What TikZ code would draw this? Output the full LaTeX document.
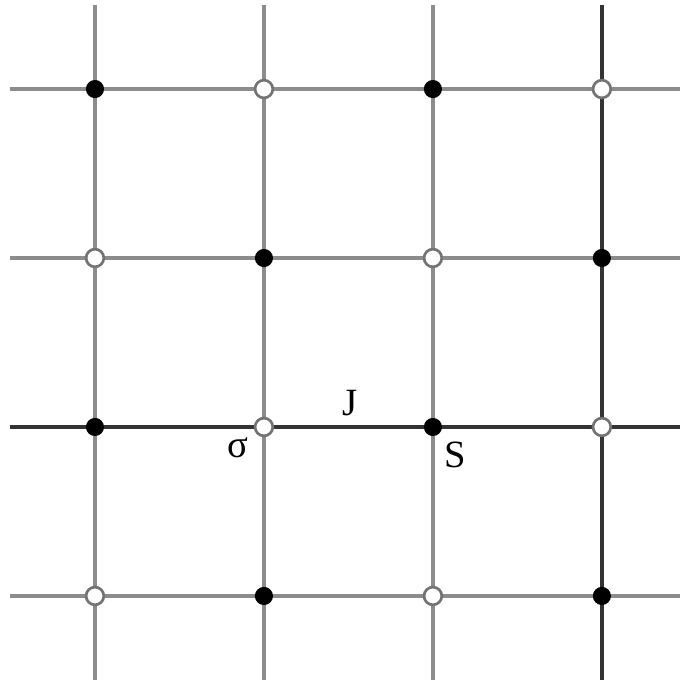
\documentclass[tikz,border=0pt]{standalone}
\usepackage{fontspec}
\setmainfont{Liberation Serif}
\usetikzlibrary{calc}
\begin{document}
\begin{tikzpicture}[x=2cm, y=2cm,
  spin/.style={circle, draw=black, fill=black, minimum size=0.2cm, inner sep=0pt},
  hole/.style={circle, draw=black!55, fill=white, line width=0.9pt, minimum size=0.21cm, inner sep=0pt},
  bond/.style={draw=black!45, line width=1.1pt},
  strong/.style={draw=black!80, line width=1.1pt},
  tag/.style={font=\fontsize{13}{15}\selectfont, inner sep=0pt}
]
  \useasboundingbox (-0.562,-0.521) rectangle (3.462,3.527);

  % ends of the grid lines
  \foreach \k in {0,...,3} {
    \coordinate (w\k) at (-0.503,\k);
    \coordinate (e\k) at (3.462,\k);
    \coordinate (n\k) at (\k,3.497);
    \coordinate (s\k) at (\k,-0.497);
  }
  \foreach \k in {0,2,3} \draw[bond] (w\k) -- (e\k);
  \foreach \k in {0,1,2} \draw[bond] (s\k) -- (n\k);
  \draw[strong] (w1) -- (e1);
  \draw[strong] (s3) -- (n3);

  % sites
  \foreach \i in {0,...,3}
    \foreach \j in {0,...,3} {
      \pgfmathtruncatemacro{\odd}{mod(\i+\j,2)}
      \ifnum\odd=1
        \node[spin] (p\i\j) at (\i,\j) {};
      \else
        \node[hole] (p\i\j) at (\i,\j) {};
      \fi
    }

  % labels
  \node[tag] (sigma) at ([shift={(-0.31cm,-0.25cm)}]p11) {σ};
  \node[tag] (bondJ) at ([shift={(0.02cm,0.28cm)}]$(p11)!0.5!(p21)$) {J};
  \node[tag] (spinS) at ([shift={(0.26cm,-0.33cm)}]p21) {S};
\end{tikzpicture}
\end{document}
